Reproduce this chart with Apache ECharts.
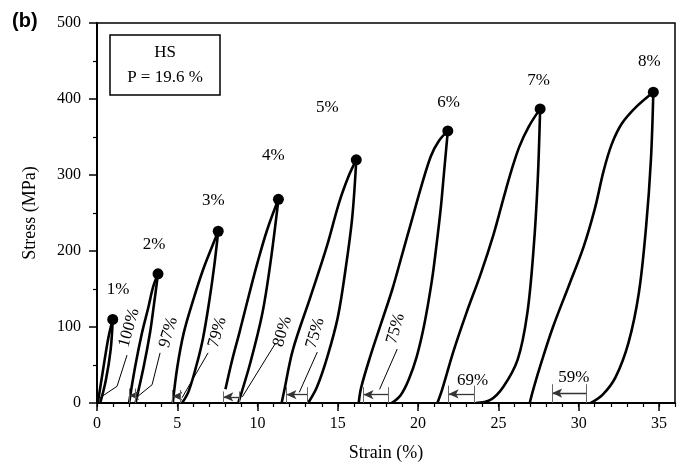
<!DOCTYPE html>
<html>
<head>
<meta charset="utf-8">
<script src="https://cdn.jsdelivr.net/npm/echarts@6/dist/echarts.min.js"></script>
<style>html,body{margin:0;padding:0;background:#fff}#c{width:684px;height:465px}</style>
</head>
<body>
<div id="c"></div>
<script>
// ---- data (strain %, stress MPa) ----
const load1 = [[0.05,0],[0.35,40],[0.7,85],[0.98,110]];
const unload1 = [[0.98,110],[0.85,70],[0.55,30],[0.2,0]];
const load2 = [[2.0,0],[2.37,47],[2.8,92],[3.2,126],[3.5,153],[3.8,170]];
const unload2 = [[3.8,170],[3.55,130],[3.3,92],[2.9,47],[2.4,0]];
const load3 = [[4.72,0],[5.0,47],[5.4,92],[6.0,136],[6.6,175],[7.15,205],[7.55,226]];
const unload3 = [[7.55,226],[7.3,180],[7.0,135],[6.6,85],[6.2,50],[5.7,15],[5.3,0]];
const load4 = [[8.0,18],[8.4,55],[8.9,95],[9.5,145],[10.0,185],[10.6,228],[11.3,268]];
const unload4 = [[11.3,268],[10.8,184],[10.3,118],[9.55,53],[8.8,0]];
const load5 = [[11.5,0],[11.65,15],[12.2,70],[13.3,140],[14.3,205],[15.1,265],[15.7,300],[16.15,320]];
const unload5 = [[16.15,320],[15.9,245],[15.5,179],[15.0,113],[14.35,61],[13.7,21],[13.15,0]];
const load6 = [[16.3,0],[16.45,20],[17.0,60],[17.7,105],[18.4,150],[19.0,195],[19.6,240],[20.2,285],[20.8,325],[21.3,345],[21.85,358]];
const unload6 = [[21.85,358],[21.6,300],[21.4,254],[21.1,200],[20.85,160],[20.4,105],[19.9,60],[19.4,30],[18.9,10],[18.35,0]];
const load7 = [[21.2,0],[21.5,18],[22.2,68],[23.0,118],[23.9,170],[24.7,222],[25.3,268],[25.8,305],[26.3,337],[26.9,364],[27.6,387]];
const unload7 = [[27.6,387],[27.45,293],[27.2,205],[26.8,118],[26.2,57],[25.3,21],[24.5,4],[23.6,0]];
const load8 = [[26.95,0],[27.2,20],[27.7,55],[28.4,100],[29.4,155],[30.3,205],[31.0,255],[31.55,305],[32.05,340],[32.7,368],[33.6,390],[34.65,409]];
const unload8 = [[34.65,409],[34.5,320],[34.2,232],[33.75,145],[33.1,79],[32.3,34],[31.5,11],[30.75,0]];

const peakX = [0.98,3.8,7.55,11.3,16.15,21.85,27.6,34.65];
const peakY = [110,170,226,268,320,358,387,409];
const strainLabels = ['1%','2%','3%','4%','5%','6%','7%','8%'];
const strainLabelX = [1.31,3.56,7.24,10.98,14.35,21.9,27.5,34.4];
const strainLabelY = [149,209,267,325,389,395,424,449];

const recLabels = ['100%','97%','79%','80%','75%','75%'];
const recLabelX = [2.0,4.45,7.5,11.55,13.6,18.6];
const recLabelY = [99,93,93,94,92,98];
const recFlatLabels = ['69%','59%'];
const recFlatX = [23.4,29.7];
const recFlatY = [30,33];

const leaders = [
  [[1.87,63],[1.25,22],[0.19,7]],
  [[3.93,66],[3.43,24],[2.5,8]],
  [[6.92,66],[5.3,7]],
  [[11.1,78],[9.05,8]],
  [[13.72,67],[12.6,14]],
  [[18.7,71],[17.6,18]]
];
// recovery arrows: [from (right), to (left), height]
const arrowRight = [2.4,5.2,8.86,13.1,18.15,23.5,30.5];
const arrowLeft = [2.0,4.7,7.87,11.8,16.6,21.9,28.35];
const arrowY = [10,9,8,11,11,12,13];

const xTicks = [0,5,10,15,20,25,30,35];
const yTicks = [0,100,200,300,400,500];

// ---- chart ----
const SERIF = "'Liberation Serif','DejaVu Serif',serif";
const curves = [load1,unload1,load2,unload2,load3,unload3,load4,unload4,load5,unload5,load6,unload6,load7,unload7,load8,unload8];
const series = [];
curves.forEach(c => series.push({
  type:'line', data:c, symbol:'none', smooth:0.35, z:3,
  lineStyle:{color:'#000', width:2.6}, silent:true
}));
series.push({
  type:'scatter', data: peakX.map((x,i)=>[x,peakY[i]]), symbolSize:11,
  itemStyle:{color:'#000', opacity:1}, z:5, silent:true
});
const lbl = {show:true, position:'inside', fontFamily:SERIF, fontSize:17, color:'#000', opacity:1};
series.push({
  type:'scatter', data: strainLabelX.map((x,i)=>[x,strainLabelY[i],strainLabels[i]]),
  symbolSize:0, silent:true, itemStyle:{opacity:1},
  label:Object.assign({}, lbl, {formatter:p=>p.data[2]})
});
series.push({
  type:'scatter', data: recLabelX.map((x,i)=>[x,recLabelY[i],recLabels[i]]),
  symbolSize:0, silent:true, itemStyle:{opacity:1},
  label:Object.assign({}, lbl, {rotate:74, formatter:p=>p.data[2]})
});
series.push({
  type:'scatter', data: recFlatX.map((x,i)=>[x,recFlatY[i],recFlatLabels[i]]),
  symbolSize:0, silent:true, itemStyle:{opacity:1},
  label:Object.assign({}, lbl, {formatter:p=>p.data[2]})
});
leaders.forEach(l => series.push({
  type:'line', data:l, symbol:'none', silent:true,
  lineStyle:{color:'#000', width:1}
}));
const arrowLines = [], barLines = [];
arrowY.forEach((y,i)=>{
  arrowLines.push([{coord:[arrowRight[i],y]},{coord:[arrowLeft[i],y]}]);
  barLines.push([{coord:[arrowRight[i],0]},{coord:[arrowRight[i],y*1.9]}]);
  barLines.push([{coord:[arrowLeft[i],0]},{coord:[arrowLeft[i],y*1.9]}]);
});
series.push({
  type:'line', data:[], silent:true,
  markLine:{silent:true, symbol:['none','arrow'], symbolSize:[7,10], animation:false,
    lineStyle:{color:'#333', width:1.3, type:'solid'}, label:{show:false}, data:arrowLines}
});
series.push({
  type:'line', data:[], silent:true,
  markLine:{silent:true, symbol:['none','none'], animation:false,
    lineStyle:{color:'#666', width:1, type:'solid'}, label:{show:false}, data:barLines}
});

const chart = echarts.init(document.getElementById('c'), null, {renderer:'canvas'});
chart.setOption({
  animation:false,
  backgroundColor:'#fff',
  grid:{left:97, top:23, right:9, bottom:62, show:true, borderColor:'#000', borderWidth:1.5,
    containLabel:false, outerBoundsMode:'none'},
  xAxis:[{
    type:'value', min:0, max:36, interval:5,
    name:'Strain (%)', nameLocation:'middle', nameGap:41,
    nameTextStyle:{fontFamily:SERIF, fontSize:18, color:'#000'},
    axisLine:{show:true, onZero:false, lineStyle:{color:'#000', width:2}},
    axisTick:{show:true, length:8, lineStyle:{color:'#000', width:1.5}},
    axisLabel:{fontFamily:SERIF, fontSize:16, color:'#000', margin:13, showMaxLabel:false,
      formatter:v=> xTicks.indexOf(v)>=0 ? String(v) : ''},
    splitLine:{show:false}
  },{
    type:'value', min:0, max:36, interval:1, position:'bottom',
    axisLine:{show:false}, axisTick:{show:true, length:4, lineStyle:{color:'#000', width:1.2}},
    axisLabel:{show:false}, splitLine:{show:false}
  }],
  yAxis:{
    type:'value', min:0, max:500, interval:100,
    name:'Stress (MPa)', nameLocation:'middle', nameGap:58,
    nameTextStyle:{fontFamily:SERIF, fontSize:18, color:'#000'},
    axisLine:{show:true, lineStyle:{color:'#000', width:2}},
    axisTick:{show:true, length:8, lineStyle:{color:'#000', width:1.5}},
    minorTick:{show:true, splitNumber:2, length:4, lineStyle:{color:'#000', width:1.2}},
    axisLabel:{fontFamily:SERIF, fontSize:16, color:'#000', margin:16,
      formatter:v=> yTicks.indexOf(v)>=0 ? String(v) : ''},
    splitLine:{show:false}
  },
  graphic:[
    {type:'text', left:12, top:11, style:{text:'(b)', font:"bold 20px 'Liberation Sans', Arial, sans-serif", fill:'#000'}},
    {type:'rect', shape:{x:110, y:35, width:110, height:60}, style:{fill:'#fff', stroke:'#000', lineWidth:1.5}, z:10},
    {type:'text', x:165, y:53, style:{text:'HS', font:"17px 'Liberation Serif', serif", fill:'#000', align:'center', verticalAlign:'middle'}, z:11},
    {type:'text', x:165, y:78, style:{text:'P = 19.6 %', font:"17px 'Liberation Serif', serif", fill:'#000', align:'center', verticalAlign:'middle'}, z:11}
  ],
  series:series
});
</script>
</body>
</html>
